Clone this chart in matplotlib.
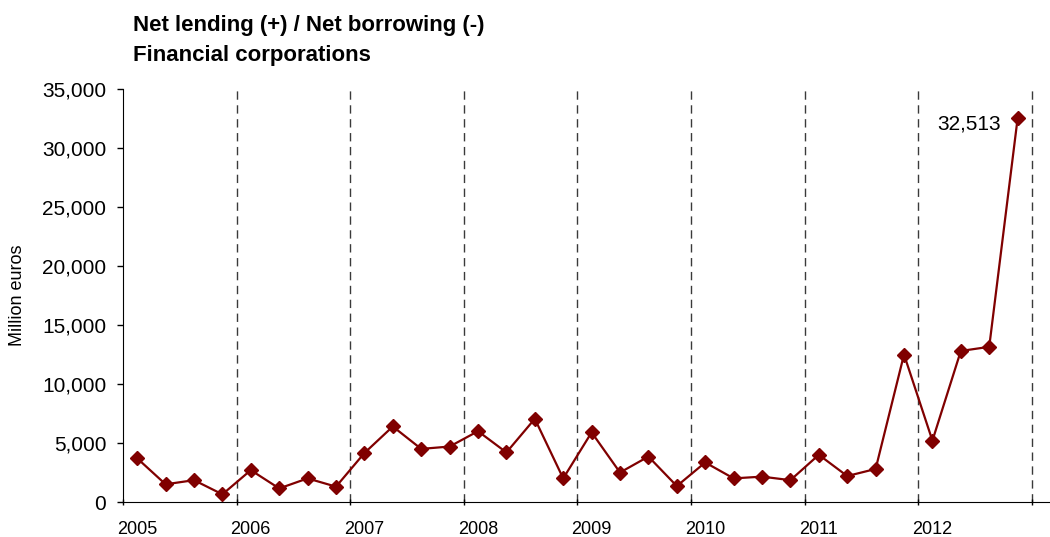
import matplotlib
matplotlib.use("Agg")
import matplotlib.pyplot as plt
from matplotlib.ticker import FuncFormatter

plt.rcParams['font.family'] = ['Liberation Sans', 'DejaVu Sans']

# quarterly net lending of financial corporations, million euros, 2005Q1-2012Q4
years = list(range(2005, 2013))
quarters = ["Q1", "Q2", "Q3", "Q4"]
net_lending = [
    3700, 1500, 1850, 650,      # 2005
    2700, 1150, 2000, 1300,     # 2006
    4150, 6400, 4500, 4700,     # 2007
    6000, 4200, 7050, 2000,     # 2008
    5900, 2500, 3850, 1350,     # 2009
    3350, 2000, 2150, 1850,     # 2010
    4000, 2200, 2800, 12500,    # 2011
    5200, 12800, 13150, 32513,  # 2012
]

# each quarter is plotted at its mid point within the year
x = [y + (i + 0.5) / 4 for y in years for i in range(len(quarters))]

fig = plt.figure(figsize=(10.5, 5.37), dpi=100)
ax = fig.add_axes([123 / 1050, 1 - 502 / 537, 1 - 123 / 1050, 413 / 537])

# year separators
for yr in years[1:] + [years[-1] + 1]:
    ax.plot([yr, yr], [0, 35000], color='#3a3a3a', lw=1, dashes=(6, 4), zorder=1)

color = '#800000'
ax.plot(x, net_lending, color=color, lw=1.6, marker='D', markersize=7.3,
        markerfacecolor=color, markeredgecolor=color, zorder=3)

ax.annotate(f"{net_lending[-1]:,}", xy=(x[-1], net_lending[-1]),
            xytext=(-12, -4), textcoords='offset points',
            ha='right', va='center', fontsize=15)

ax.set_xlim(2005, 2013.16)
ax.set_ylim(0, 35000)
ax.set_yticks(range(0, 35001, 5000))
ax.yaxis.set_major_formatter(FuncFormatter(lambda v, p: f"{int(v):,}"))
ax.tick_params(axis='y', labelsize=15, length=4, width=1, pad=8)

ax.set_xticks(years + [years[-1] + 1])
ax.set_xticklabels([])
ax.set_xticks([y + 0.125 for y in years], minor=True)
ax.set_xticklabels([str(y) for y in years], minor=True)
ax.tick_params(axis='x', which='major', length=5, width=1, direction='inout')
ax.tick_params(axis='x', which='minor', length=0, labelsize=13, pad=14)

for side in ('top', 'right'):
    ax.spines[side].set_visible(False)

ax.set_ylabel("Million euros", fontsize=13)
ax.yaxis.set_label_coords(-97 / 927, 0.5)

fig.text(133 / 1050, 1 - 25 / 537, "Net lending (+) / Net borrowing (-)",
         fontsize=16, fontweight='bold', va='center')
fig.text(133 / 1050, 1 - 55 / 537, "Financial corporations",
         fontsize=16, fontweight='bold', va='center')

fig.savefig("out.png", dpi=100)
